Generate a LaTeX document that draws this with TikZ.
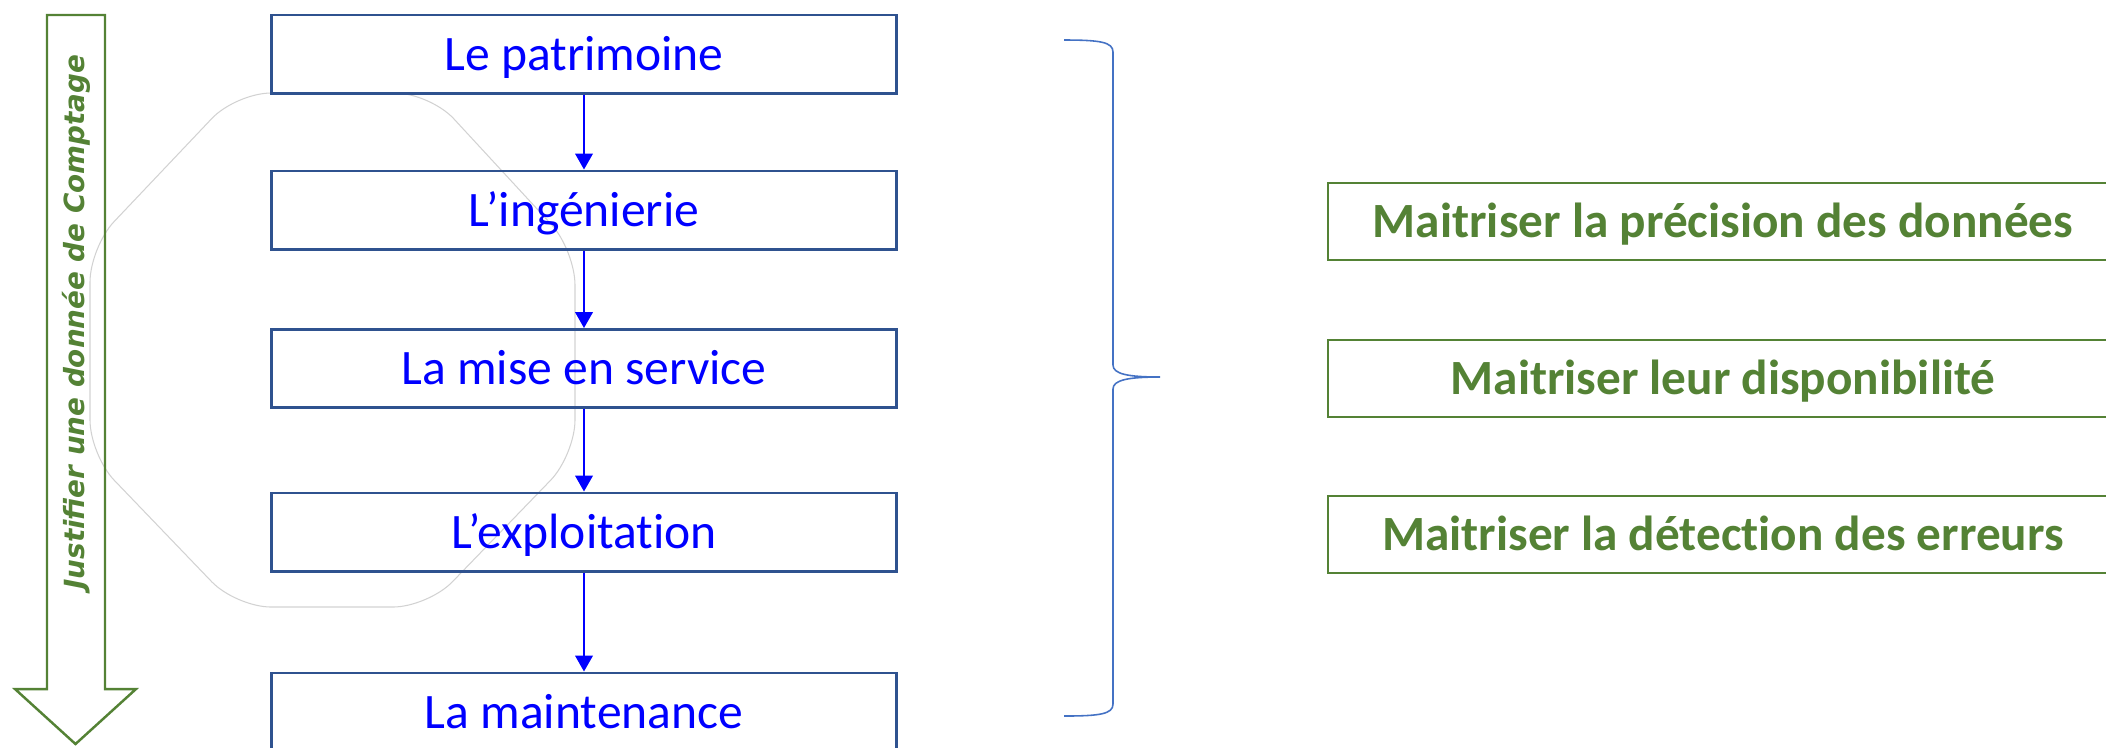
\documentclass[tikz,border=0pt]{standalone}
\usepackage{fontspec}
\setmainfont{Carlito}[Ligatures={NoCommon}]
\newfontfamily\dejavu{DejaVu Sans}
\usetikzlibrary{arrows.meta}
\definecolor{bleufonce}{HTML}{2F528F}
\definecolor{bleuacc}{HTML}{4472C4}
\definecolor{vertfonce}{HTML}{548235}

\begin{document}
\begin{tikzpicture}[
  x=0.01cm, y=-0.01cm,
  etape/.style={draw=bleufonce, line width=0.85pt,
    minimum width=6.24cm, minimum height=0.78cm, inner sep=0pt,
    text=blue, text height=0.32cm, text depth=0pt,
    font=\fontsize{14.1}{16}\selectfont},
  objectif/.style={draw=vertfonce, line width=0.6pt,
    minimum width=7.9cm, minimum height=0.77cm, inner sep=0pt,
    text=vertfonce, text height=0.32cm, text depth=0pt,
    font=\fontsize{14}{16}\selectfont\bfseries},
  fleche/.style={blue, line width=0.45pt,
    -{Triangle[width=5pt,length=4.5pt]}}
]
\useasboundingbox (0,0) rectangle (2106,747);

% contour gris
\draw[gray!35, line width=0.3pt, rounded corners=0.35cm]
  (236,93) -- (430,93) -- (575,250) -- (575,455) -- (428,607)
  -- (236,607) -- (90,455) -- (90,247) -- cycle;

% grande flèche verte
\draw[vertfonce, line width=0.7pt]
  (47,15) -- (105,15) -- (105,689) -- (136,689) -- (75.5,744)
  -- (15,689) -- (47,689) -- cycle;
\node[rotate=90, text=vertfonce, inner sep=0pt,
  font=\dejavu\fontsize{7.9}{9}\selectfont\bfseries\itshape]
  (justifier) at (76,322) {Justifier une donnée de Comptage};

% étapes
\node[etape] (patrimoine) at (584,54) {Le patrimoine};
\node[etape] (ingenierie) at (584,210) {L’ingénierie};
\node[etape] (service) at (584,368.5) {La mise en service};
\node[etape] (exploitation) at (584,532) {L’exploitation};
\node[etape] (maintenance) at (584,712) {La maintenance};

\foreach \a/\b in {patrimoine/ingenierie,ingenierie/service,
                   service/exploitation,exploitation/maintenance}
  \draw[fleche] (\a) -- (\b);

% accolade
\draw[bleuacc, line width=0.45pt]
  (1064,40) .. controls (1100,40) and (1113,42) .. (1113,52)
  -- (1113,365) .. controls (1113,374) and (1128,377) .. (1160,377)
  .. controls (1128,377) and (1113,380) .. (1113,389)
  -- (1113,704) .. controls (1113,714) and (1100,716) .. (1064,716);

% objectifs
\node[objectif] (precision) at (1723,221.5)
  {Maitriser la précision des données};
\node[objectif] (disponibilite) at (1723,378.5)
  {Maitriser leur disponibilité};
\node[objectif] (detection) at (1723,534.5)
  {Maitriser la détection des erreurs};
\end{tikzpicture}
\end{document}
